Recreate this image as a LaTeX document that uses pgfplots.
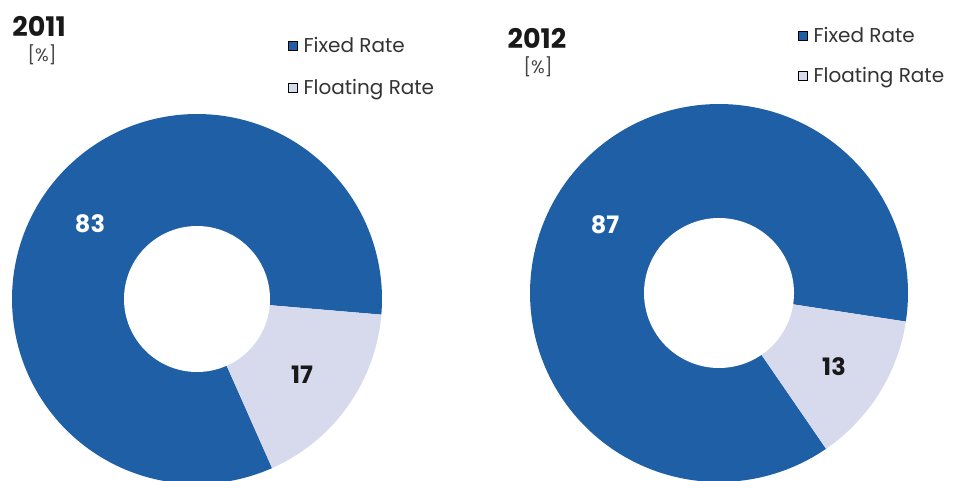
\documentclass[border=0pt]{standalone}
\usepackage{pgfplots}
\pgfplotsset{compat=1.18}
\usepackage{pgfplotstable}
\usepackage{fontspec}
\setmainfont{Poppins}
\definecolor{fixedblue}{HTML}{1F5FA5}
\definecolor{floatlight}{HTML}{D6DAEC}
\definecolor{unitgray}{HTML}{444444}

\pgfplotstableread{
year fixed floating
2011 83 17
2012 87 13
}\ratedata
\pgfplotstablegetelem{0}{year}\of\ratedata \edef\YearA{\pgfplotsretval}
\pgfplotstablegetelem{0}{fixed}\of\ratedata \edef\FixA{\pgfplotsretval}
\pgfplotstablegetelem{0}{floating}\of\ratedata \edef\FloA{\pgfplotsretval}
\pgfplotstablegetelem{1}{year}\of\ratedata \edef\YearB{\pgfplotsretval}
\pgfplotstablegetelem{1}{fixed}\of\ratedata \edef\FixB{\pgfplotsretval}
\pgfplotstablegetelem{1}{floating}\of\ratedata \edef\FloB{\pgfplotsretval}

% slice angles (fixed slice starts at the given angle and runs counter-clockwise)
\pgfmathsetmacro\SA{-4.85}
\pgfmathsetmacro\EA{\SA+3.6*\FixA}
\pgfmathsetmacro\BA{\SA-3.6*\FloA}
\pgfmathsetmacro\SB{-8.7}
\pgfmathsetmacro\EB{\SB+3.6*\FixB}
\pgfmathsetmacro\BB{\SB-3.6*\FloB}

\pgfplotsset{donutaxis/.style={
  width=955pt, height=480pt, scale only axis,
  xmin=0, xmax=955, ymin=0, ymax=480,
  hide axis, clip=true,
  legend cell align=left,
  legend style={draw=none, fill=none, inner sep=0pt,
    font=\fontsize{20}{24}\selectfont, text=black!80,
    nodes={inner sep=1pt},
    /tikz/every odd column/.append style={column sep=5pt}},
  legend image code/.code={\fill[##1] (0pt,-4.5pt) rectangle (9pt,4.5pt);}
}}

\begin{document}
\begin{tikzpicture}
\path[use as bounding box, clip] (0,0) rectangle (955pt,480pt);
% ---------- 2011 ----------
\begin{axis}[donutaxis, legend style={at={(axis cs:288,413.5)}, anchor=west, row sep=23pt}]
\addplot[fill=fixedblue, draw=none, domain=\SA:\EA, samples=200, forget plot]
  ({197+185*cos(x)},{181+185*sin(x)}) -- (axis cs:197,181) -- cycle;
\addplot[fill=floatlight, draw=none, domain=\BA:\SA, samples=60, forget plot]
  ({197+185*cos(x)},{181+185*sin(x)}) -- (axis cs:197,181) -- cycle;
\addplot[fill=white, draw=none, domain=0:360, samples=120, forget plot]
  ({197+73*cos(x)},{181+73*sin(x)}) -- cycle;
\addlegendimage{fill=fixedblue}
\addlegendentry{Fixed Rate}
\addlegendimage{fill=floatlight}
\addlegendentry{Floating Rate}
\node[font=\fontsize{27}{32}\selectfont\bfseries, text=black!90] at (axis cs:39,454) {\YearA};
\node[font=\fontsize{18}{22}\selectfont, text=unitgray] at (axis cs:42,425) {[\%]};
\node[font=\fontsize{24}{28}\selectfont\bfseries, text=white] at (axis cs:90,256) {\FixA};
\node[font=\fontsize{24}{28}\selectfont\bfseries, text=black!90] at (axis cs:302,105) {\FloA};
\end{axis}
% ---------- 2012 ----------
\begin{axis}[donutaxis, legend style={at={(axis cs:798,424.5)}, anchor=west, row sep=21pt}]
\addplot[fill=fixedblue, draw=none, domain=\SB:\EB, samples=200, forget plot]
  ({719+189*cos(x)},{187+189*sin(x)}) -- (axis cs:719,187) -- cycle;
\addplot[fill=floatlight, draw=none, domain=\BB:\SB, samples=60, forget plot]
  ({719+189*cos(x)},{187+189*sin(x)}) -- (axis cs:719,187) -- cycle;
\addplot[fill=white, draw=none, domain=0:360, samples=120, forget plot]
  ({719+75*cos(x)},{187+75*sin(x)}) -- cycle;
\addlegendimage{fill=fixedblue}
\addlegendentry{Fixed Rate}
\addlegendimage{fill=floatlight}
\addlegendentry{Floating Rate}
\node[font=\fontsize{27}{32}\selectfont\bfseries, text=black!90] at (axis cs:537,442) {\YearB};
\node[font=\fontsize{18}{22}\selectfont, text=unitgray] at (axis cs:538,413) {[\%]};
\node[font=\fontsize{24}{28}\selectfont\bfseries, text=white] at (axis cs:605,255) {\FixB};
\node[font=\fontsize{24}{28}\selectfont\bfseries, text=black!90] at (axis cs:834,113) {\FloB};
\end{axis}
\end{tikzpicture}
\end{document}
